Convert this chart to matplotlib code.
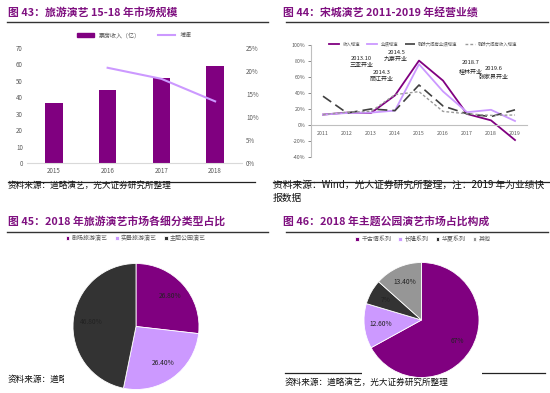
import numpy as np
import matplotlib
matplotlib.use('Agg')
import matplotlib.pyplot as plt
from matplotlib.lines import Line2D
from matplotlib.patches import Patch, Rectangle

plt.rcParams['font.family'] = ['Noto Sans CJK SC', 'DejaVu Sans']
plt.rcParams['axes.unicode_minus'] = False

# ---- data ----
years_43 = ['2015', '2016', '2017', '2018']
box_office = [36.3, 44.2, 51.9, 59.0]
growth_43 = [None, 0.207, 0.183, 0.134]

years_44 = ['2011', '2012', '2013', '2014', '2015', '2016', '2017', '2018', '2019']
rev_growth = [13, 15.5, 15, 37, 80.5, 55.5, 13.8, 5.8, -18.8]
profit_growth = [13, 15, 15.5, 18, 76, 42, 16, 19, 5]
profit_ex6 = [36, 15, 20, 18, 50, 23.8, 14, 10.5, 19]
rev_ex6 = [13, 16, 17, 38, 41.7, 17, 14, 12, 12.5]
events = [('2013.10', '三亚开业', 1.6, 83, 74),
          ('2014.3', '丽江开业', 2.45, 66, 57.5),
          ('2014.5', '九寨开业', 3.05, 91, 82.5),
          ('2018.7', '桂林开业', 6.15, 77.5, 66.5),
          ('2019.6', '张家界开业', 7.1, 70, 60)]

types_45 = ['剧场旅游演艺', '实景旅游演艺', '主题公园演艺']
share_45 = [26.8, 26.4, 46.8]
labels_45 = ['26.80%', '26.40%', '46.80%']

series_46 = ['千古情系列', '长隆系列', '华夏系列', '其他']
share_46 = [67, 12.6, 7, 13.4]
labels_46 = ['67%', '12.60%', '7%', '13.40%']

W, H = 550, 393
fig = plt.figure(figsize=(W / 100, H / 100), dpi=100)

PURPLE = '#800080'
LIGHT = '#CC99FF'
DARK = '#333333'
TITLE_C = '#7F1080'
TICK_C = '#595959'


def add_ax(l, t, r, b, **kw):
    return fig.add_axes([l / W, 1 - b / H, (r - l) / W, (b - t) / H], **kw)


def ftext(x, y, s, **kw):
    return fig.text(x / W, 1 - y / H, s, **kw)


def hline(x0, x1, y, lw=1.0, color='#333333', z=-1):
    fig.add_artist(Line2D([x0 / W, x1 / W], [1 - y / H, 1 - y / H],
                          color=color, lw=lw, zorder=z))


def white_box(x0, y0, x1, y1):
    fig.add_artist(Rectangle((x0 / W, 1 - y1 / H), (x1 - x0) / W, (y1 - y0) / H,
                             transform=fig.transFigure, facecolor='white',
                             edgecolor='none', zorder=-0.5))


def title(x, y, s):
    ftext(x, y, s, color=TITLE_C, fontsize=7.8, fontweight='bold', va='center')


def source(x, y, s, size=6.2):
    ftext(x, y, s, fontsize=size, va='center', color='#111111', zorder=-2)


# ---- titles and rules ----
title(8, 12, '图 43：旅游演艺 15-18 年市场规模')
title(283, 12, '图 44：宋城演艺 2011-2019 年经营业绩')
hline(7, 268, 22)
hline(286, 548, 22)
title(8, 221, '图 45：2018 年旅游演艺市场各细分类型占比')
title(283, 221, '图 46：2018 年主题公园演艺市场占比构成')
hline(7, 268, 232)
hline(286, 548, 232)

# ---- figure 43 ----
ax = add_ax(27, 48, 242, 163)
x = np.arange(len(years_43))
ax.bar(x, box_office, width=0.33, color=PURPLE)
ax.set_xlim(-0.5, 3.5)
ax.set_ylim(0, 70)
ax.set_yticks(range(0, 71, 10))
ax.set_xticks(x)
ax.set_xticklabels(years_43)
for s in ['top', 'right', 'left']:
    ax.spines[s].set_visible(False)
ax.spines['bottom'].set_color('#d9d9d9')
ax.tick_params(labelsize=4.5, colors=TICK_C, length=0, pad=3)
ax2 = ax.twinx()
ax2.plot(x[1:], growth_43[1:], color=LIGHT, lw=1.5)
ax2.set_ylim(0, 0.25)
ax2.set_yticks(np.arange(0, 0.26, 0.05))
ax2.set_yticklabels(['0%', '5%', '10%', '15%', '20%', '25%'])
for s in ['top', 'right', 'left', 'bottom']:
    ax2.spines[s].set_visible(False)
ax2.tick_params(labelsize=4.5, colors=TICK_C, length=0, pad=3)
handles = [Patch(color=PURPLE), Line2D([], [], color=LIGHT, lw=1.5)]
ax.legend(handles, ['票房收入（亿）', '增速'], loc='center', bbox_to_anchor=(0.5, 1.11),
          ncol=2, frameon=False, fontsize=4.3, handlelength=2.8, handleheight=0.6,
          columnspacing=3, labelcolor=TICK_C)
source(8, 185, '资料来源：道略演艺，光大证券研究所整理')
hline(8, 255, 182, lw=0.9, color='#222222', z=5)

# ---- figure 44 ----
ax = add_ax(311, 45, 527, 157)
x = np.arange(len(years_44))
ax.plot(x, rev_growth, color=PURPLE, lw=1.3, label='收入增速')
ax.plot(x, profit_growth, color=LIGHT, lw=1.3, label='业绩增速')
ax.plot(x, profit_ex6, color='#404040', lw=1.2, dashes=(6, 3), label='剔除六间房业绩增速')
ax.plot(x, rev_ex6, color='#9a9a9a', lw=1.0, dashes=(2, 1.5), label='剔除六间房收入增速')
ax.set_xlim(-0.5, 8.5)
ax.set_ylim(-40, 100)
ax.set_yticks(range(-40, 101, 20))
ax.set_yticklabels([f'{v}%' for v in range(-40, 101, 20)])
ax.set_xticks(x)
ax.set_xticklabels(years_44)
ax.spines['top'].set_visible(False)
ax.spines['right'].set_visible(False)
ax.spines['bottom'].set_position(('data', 0))
ax.spines['bottom'].set_color('#bfbfbf')
ax.spines['left'].set_color('#bfbfbf')
ax.tick_params(axis='y', labelsize=3.8, colors=TICK_C, length=2, pad=2, width=0.5)
ax.tick_params(axis='x', labelsize=3.8, colors=TICK_C, length=0, pad=4)
for yr, city, ex, y1, y2 in events:
    ax.text(ex, y1, yr, fontsize=4.2, ha='center', va='center', color='#222222')
    ax.text(ex, y2, city, fontsize=4.3, ha='center', va='center', color='#222222')
ax.legend(loc='center', bbox_to_anchor=(0.52, 1.01), ncol=4, frameon=False,
          fontsize=3.2, handlelength=2.2, columnspacing=1.6, labelcolor=TICK_C)
source(273, 185, '资料来源：Wind，光大证券研究所整理，注：2019 年为业绩快', size=7.0)
source(273, 198, '报数据', size=7.0)
hline(273, 550, 182, lw=0.9, color='#222222', z=5)

# ---- figure 45 ----
source(8, 379, '资料来源：道略演艺，光大证券研究所整理')
white_box(64, 245, 212, 393)
ax = add_ax(136 - 63, 326.5 - 63, 136 + 63, 326.5 + 63)
ax.patch.set_visible(False)
wedges, texts = ax.pie(share_45, colors=[PURPLE, LIGHT, DARK], startangle=90,
                       counterclock=False, radius=1.0,
                       wedgeprops=dict(edgecolor='white', linewidth=0.6))
for w, lab in zip(wedges, labels_45):
    ang = np.deg2rad((w.theta1 + w.theta2) / 2)
    ax.text(0.72 * np.cos(ang), 0.72 * np.sin(ang), lab, fontsize=4.8,
            ha='center', va='center', color='#222222')
ax.set_xlim(-1, 1)
ax.set_ylim(-1, 1)
fig.legend(wedges, types_45, loc='center', bbox_to_anchor=(136 / W, 1 - 238 / H), ncol=3,
           frameon=False, fontsize=4.3, handlelength=0.6, handleheight=0.6,
           handletextpad=0.4, columnspacing=1.2, labelcolor=TICK_C)

# ---- figure 46 ----
hline(285, 545, 373, lw=0.9, color='#222222', z=-1)
white_box(362, 245, 482, 376)
source(285, 382, '资料来源：道略演艺，光大证券研究所整理')
ax = add_ax(421.5 - 57.5, 320 - 57.5, 421.5 + 57.5, 320 + 57.5)
ax.patch.set_visible(False)
wedges, texts = ax.pie(share_46, colors=[PURPLE, LIGHT, DARK, '#969696'], startangle=90,
                       counterclock=False, radius=1.0,
                       wedgeprops=dict(edgecolor='white', linewidth=0.6))
for w, lab in zip(wedges, labels_46):
    ang = np.deg2rad((w.theta1 + w.theta2) / 2)
    ax.text(0.72 * np.cos(ang), 0.72 * np.sin(ang), lab, fontsize=4.8,
            ha='center', va='center', color='#222222')
ax.set_xlim(-1, 1)
ax.set_ylim(-1, 1)
fig.legend(wedges, series_46, loc='center', bbox_to_anchor=(423 / W, 1 - 239 / H), ncol=4,
           frameon=False, fontsize=4.3, handlelength=0.6, handleheight=0.6,
           handletextpad=0.4, columnspacing=1.2, labelcolor=TICK_C)

fig.savefig('out.png', dpi=100)
